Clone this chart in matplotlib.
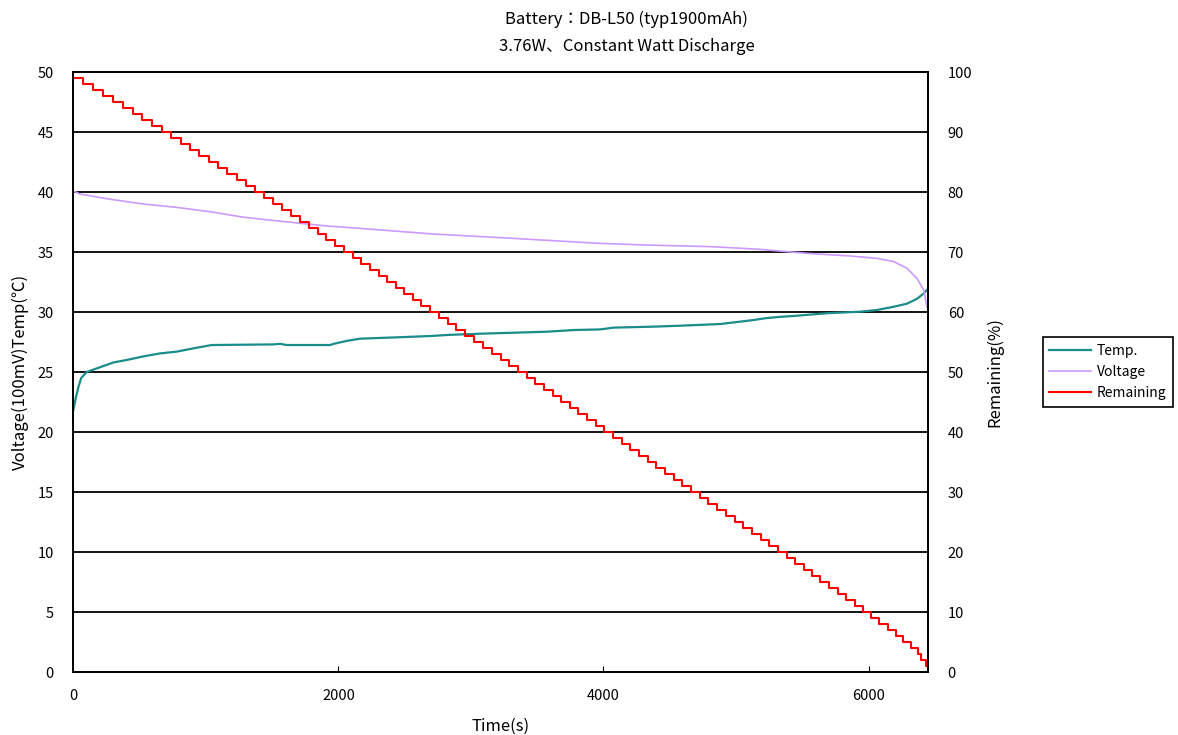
import matplotlib
matplotlib.use("Agg")
import matplotlib.pyplot as plt

plt.rcParams['font.family'] = ['Noto Sans CJK JP', 'DejaVu Sans']

# Temperature (deg C)
temp_t = [0, 20, 40, 60, 101, 202, 304, 402, 528, 654, 780, 906, 1044,
          1510, 1560, 1610, 1937, 1965, 2065, 2165, 2466, 2692, 2843, 3094,
          3575, 3775, 3975, 4076, 4377, 4579, 4881, 5032, 5130, 5233, 5335,
          5434, 5688, 5938, 6064, 6190, 6290, 6365, 6416, 6453]
temp_v = [21.8, 22.9, 23.8, 24.5, 25.0, 25.4, 25.8, 26.0, 26.3, 26.55, 26.7,
          26.97, 27.25, 27.3, 27.35, 27.25, 27.25, 27.35, 27.6, 27.78, 27.9,
          28.0, 28.1, 28.2, 28.36, 28.5, 28.55, 28.7, 28.78, 28.86, 29.0,
          29.2, 29.33, 29.5, 29.6, 29.67, 29.9, 30.03, 30.17, 30.44, 30.7,
          31.1, 31.55, 32.0]

# Voltage (x100mV)
volt_t = [0, 50, 277, 530, 780, 1032, 1285, 1535, 1912, 2164, 2717, 3220,
          3975, 4330, 4830, 5183, 5535, 5862, 6064, 6190, 6290, 6365, 6416,
          6441]
volt_v = [40.1, 39.83, 39.4, 39.0, 38.72, 38.36, 37.9, 37.6, 37.17, 36.97,
          36.5, 36.2, 35.72, 35.58, 35.44, 35.22, 34.89, 34.67, 34.47, 34.2,
          33.64, 32.8, 31.83, 30.4]

# Remaining (%), start time of each level 99 .. 0
rem_t = [0, 75, 149, 224, 298, 373, 447, 522, 597, 671,
         741, 811, 882, 952, 1022, 1092, 1162, 1233, 1303, 1373,
         1440, 1507, 1574, 1641, 1708, 1776, 1843, 1910, 1977, 2044,
         2109, 2174, 2238, 2303, 2368, 2433, 2498, 2562, 2627, 2692,
         2758, 2825, 2891, 2958, 3024, 3090, 3157, 3223, 3290, 3356,
         3421, 3486, 3551, 3616, 3681, 3745, 3810, 3875, 3940, 4005,
         4071, 4136, 4202, 4267, 4333, 4399, 4464, 4530, 4595, 4661,
         4727, 4792, 4858, 4923, 4989, 5055, 5120, 5186, 5251, 5317,
         5381, 5445, 5509, 5573, 5637, 5702, 5766, 5830, 5894, 5958,
         6019, 6081, 6145, 6207, 6258, 6320, 6371, 6396, 6434, 6451]
rem_v = list(range(99, -1, -1))

fig = plt.figure(figsize=(11.78, 7.35), dpi=100)
ax = fig.add_axes([0.0622, 0.0857, 0.7258, 0.8163])
ax2 = ax.twinx()

l1, = ax.plot(temp_t, temp_v, color='#1a8c8a', lw=1.6, label='Temp.')
l2, = ax.plot(volt_t, volt_v, color='#cc99ff', lw=1.2, label='Voltage')
l3, = ax2.step(rem_t, rem_v, where='post', color='#ff0000', lw=1.5,
               label='Remaining')

ax.set_xlim(0, 6450)
ax.set_ylim(0, 50)
ax2.set_ylim(0, 100)
ax.set_xticks([0, 2000, 4000, 6000])
ax.set_yticks(range(0, 51, 5))
ax2.set_yticks(range(0, 101, 10))

ax.grid(axis='y', color='black', lw=1.3)
ax.set_axisbelow(True)
for a in (ax, ax2):
    for s in a.spines.values():
        s.set_color('black')
        s.set_linewidth(1.3)
ax.tick_params(axis='x', direction='in', length=4, labelsize=10.5, pad=12)
ax.tick_params(axis='y', length=0, labelsize=10.5, pad=14)
ax2.tick_params(axis='y', length=0, labelsize=10.5, pad=14)

ax.set_xlabel('Time(s)', fontsize=12, labelpad=11)
ax.set_ylabel('Voltage(100mV)Temp(℃)', fontsize=12, labelpad=6)
ax2.set_ylabel('Remaining(%)', fontsize=12, labelpad=10)

fig.text(0.532, 0.986, 'Battery：DB-L50 (typ1900mAh)', ha='center',
         va='top', fontsize=12)
fig.text(0.532, 0.948, '3.76W、Constant Watt Discharge', ha='center',
         va='top', fontsize=12)

leg = fig.legend(handles=[l1, l2, l3], loc='center left',
                 bbox_to_anchor=(0.885, 0.494), borderaxespad=0,
                 fontsize=10, fancybox=False, edgecolor='black',
                 framealpha=1, handlelength=3.0, handletextpad=0.4,
                 borderpad=0.5, labelspacing=0.5)
leg.get_frame().set_linewidth(1.2)

fig.savefig('out.png', dpi=100)
